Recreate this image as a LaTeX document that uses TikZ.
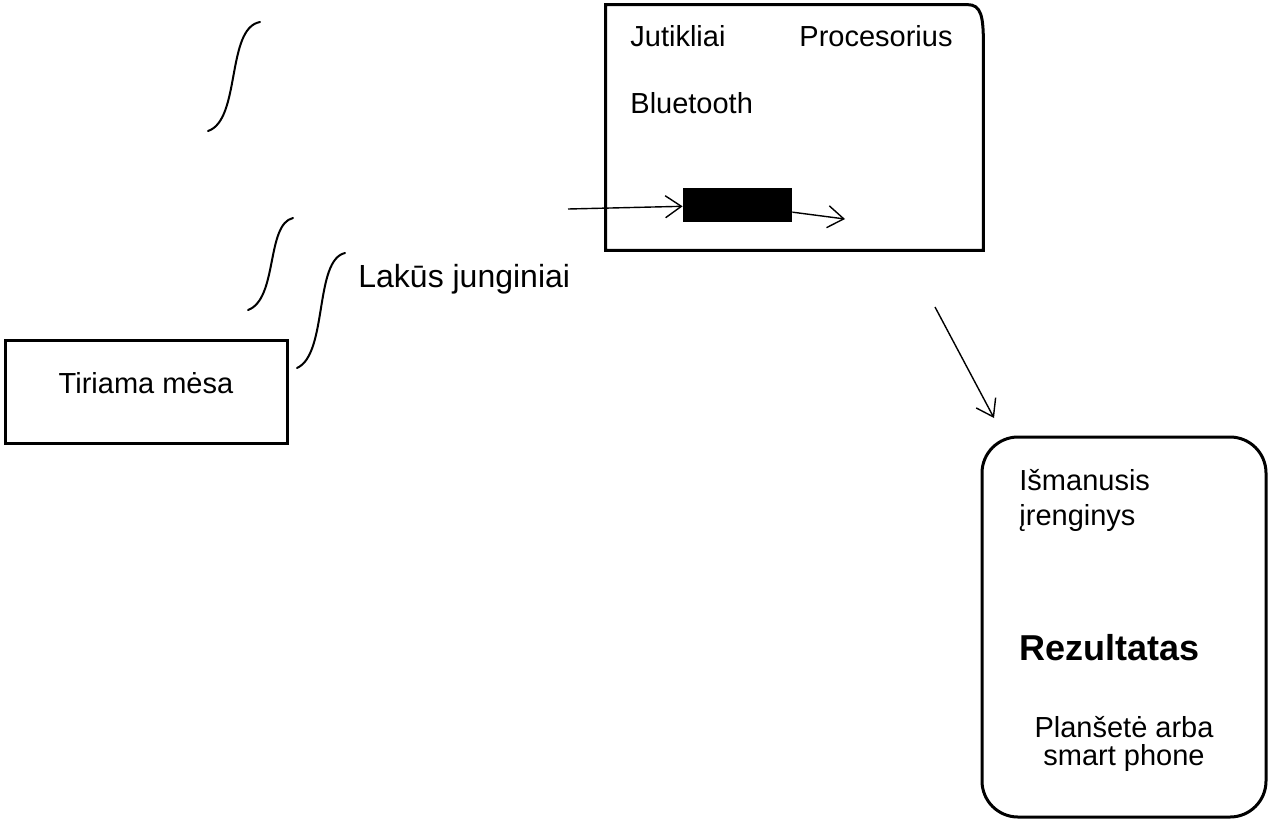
\documentclass[tikz,border=0pt]{standalone}
\usepackage{fontspec}
\setmainfont{Liberation Sans}
\usetikzlibrary{positioning,arrows.meta}

\begin{document}
\begin{tikzpicture}[
  x=0.5pt,y=-0.5pt,
  font=\fontsize{14.5}{17.5}\selectfont,
  box/.style={draw=black,line width=1.5pt,inner sep=0pt},
  txt/.style={inner sep=0pt,anchor=base west},
  ar/.style={-{Straight Barb[length=8pt,width=11pt]},line width=0.7pt},
  wave/.style={line width=1pt,line cap=round}]
  \useasboundingbox (0,0) rectangle (1268,831);
  % sensor module
  \node[inner sep=0pt,minimum width=188.5pt,minimum height=122.5pt] (sensor) at (794.5,127.5) {};
  \draw[box] (sensor.south west) -- (sensor.north west) -- ([xshift=-8pt]sensor.north east)
    .. controls ([xshift=-1pt]sensor.north east) and ([yshift=-6pt]sensor.north east) .. ([yshift=-20pt]sensor.north east)
    -- (sensor.south east) -- cycle;
  \node[txt] (jut) at (630,46) {Jutikliai};
  \node[txt] (proc) at (799,46) {Procesorius};
  \node[txt] (blue) at ([yshift=-33.75pt]jut.base west) {Bluetooth};
  \node[fill=black,minimum width=54.5pt,minimum height=17pt,inner sep=0pt] (bt) at (737.5,205) {};
  \coordinate (in) at (568,209);
  \coordinate (out) at (845,219);
  \draw[ar] (in) -- (bt);
  \draw[ar] (bt) -- (out);
  % meat sample
  \node[box,minimum width=141pt,minimum height=51.5pt] (meat) at (146,391.5) {};
  \node[inner sep=0pt] (meattxt) at ([yshift=4pt]meat.center) {Tiriama mėsa};
  % volatile compounds
  \draw[wave] (208,131) .. controls (241,120) and (226,28) .. (260,22);
  \draw[wave] (248,310) .. controls (278,299) and (266,224) .. (293,218);
  \draw[wave] (297,368) .. controls (328,354) and (314,260) .. (345,253);
  \node[txt,font=\fontsize{16}{19}\selectfont] (vol) at (358,287) {Lakūs junginiai};
  % result device
  \node[box,rounded corners=18pt,minimum width=142pt,minimum height=190pt] (res) at (1124,627) {};
  \node[txt,align=left] (smart) at (1019,525) {Išmanusis\\įrenginys};
  \node[txt,font=\fontsize{18}{22}\selectfont\bfseries] (rez) at (1019,660) {Rezultatas};
  \node[inner sep=0pt,anchor=base,align=center,font=\fontsize{14.5}{14}\selectfont] (tab) at (1124,765) {Planšetė arba\\smart phone};
  \coordinate (dnfrom) at (935,307);
  \coordinate (dnto) at (994,418);
  \draw[ar] (dnfrom) -- (dnto);
\end{tikzpicture}
\end{document}
